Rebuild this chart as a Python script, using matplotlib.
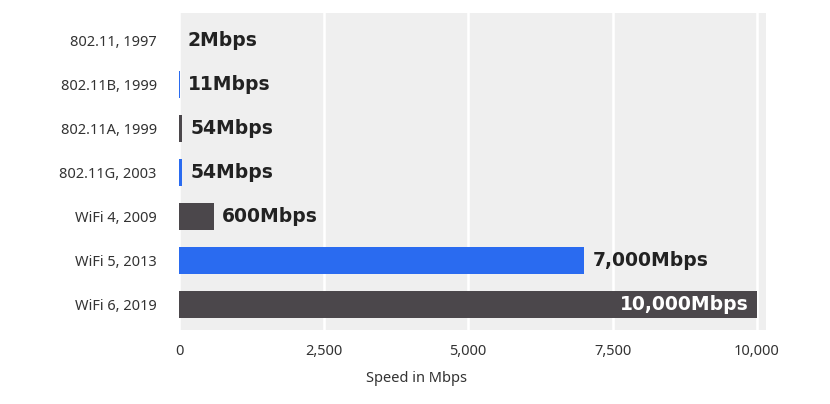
import matplotlib
matplotlib.use("Agg")
import matplotlib.pyplot as plt
from matplotlib.ticker import FuncFormatter

categories = ["802.11, 1997", "802.11B, 1999", "802.11A, 1999", "802.11G, 2003",
              "WiFi 4, 2009", "WiFi 5, 2013", "WiFi 6, 2019"]
speeds = [2, 11, 54, 54, 600, 7000, 10000]
value_labels = ["2Mbps", "11Mbps", "54Mbps", "54Mbps", "600Mbps", "7,000Mbps", "10,000Mbps"]
x_ticks = [0, 2500, 5000, 7500, 10000]

DARK = "#4b474b"
BLUE = "#2a6bf0"
colors = [DARK, BLUE, DARK, BLUE, DARK, BLUE, DARK]

TICK_FONT = "Noto Sans"
LABEL_FONT = "DejaVu Sans"

W, H = 830, 404
fig = plt.figure(figsize=(W / 100, H / 100), dpi=100)
left, right, top, bottom = 179, 766, 13, 330
ax = fig.add_axes([left / W, 1 - bottom / H, (right - left) / W, (bottom - top) / H])
ax.set_facecolor("#efefef")

ypos = list(range(len(categories)))
ax.barh(ypos, speeds, height=0.6, color=colors, zorder=3)

xmax = 10000 * (right - left) / (757 - left)
ax.set_xlim(0, xmax)
ax.set_ylim(len(categories) - 0.42, -0.62)

ax.set_xticks(x_ticks)
ax.xaxis.set_major_formatter(FuncFormatter(lambda v, p: f"{int(v):,}"))
ax.grid(axis="x", color="white", linewidth=1.8, zorder=1)
ax.set_axisbelow(True)
for s in ax.spines.values():
    s.set_visible(False)
ax.tick_params(axis="both", length=0, colors="#333333", labelsize=10.5)
ax.tick_params(axis="x", pad=10)
ax.tick_params(axis="y", pad=16)
ax.set_yticks(ypos)
ax.set_yticklabels(categories, family=TICK_FONT)
for lab in ax.get_xticklabels():
    lab.set_family(TICK_FONT)

for i, (v, t) in enumerate(zip(speeds, value_labels)):
    if v >= 9000:
        ax.text(v - 150, i, t, ha="right", va="center", color="white",
                fontsize=13.5, fontweight="bold", family=LABEL_FONT, zorder=4)
    else:
        ax.text(v + 150, i, t, ha="left", va="center", color="#222222",
                fontsize=13.5, fontweight="bold", family=LABEL_FONT, zorder=4)

fig.text(416 / W, 1 - 378 / H, "Speed in Mbps", ha="center", va="center",
         fontsize=10.5, color="#333333", family=TICK_FONT)

fig.savefig("out.png", dpi=100, facecolor="white")
